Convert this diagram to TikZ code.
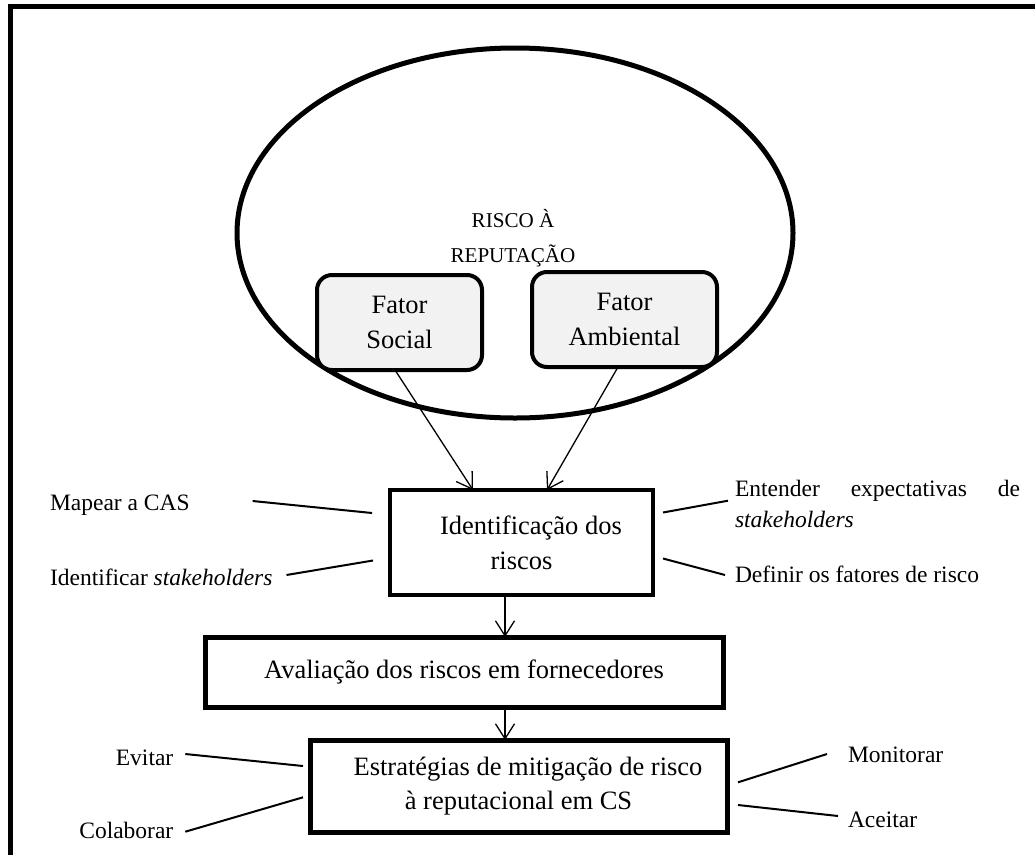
\documentclass[tikz,border=0pt]{standalone}
\usepackage{fontspec}
\setmainfont{Liberation Serif}
\usetikzlibrary{arrows.meta,shapes.geometric}
\definecolor{boxfill}{HTML}{F2F2F2}
\begin{document}
\begin{tikzpicture}[x=1pt,y=-1pt,
  sidetxt/.style={inner sep=0pt,outer sep=0pt,font=\fontsize{23.5}{30.3}\selectfont},
  boxtxt/.style={font=\fontsize{26.5}{35}\selectfont,align=center,inner sep=0pt,outer sep=0pt},
  stepbox/.style={draw,line width=4.5pt,line join=miter,boxtxt},
  factor/.style={draw,line width=4pt,fill=boxfill,rounded corners=15pt,boxtxt},
  flow/.style={line width=1.3pt,-{Straight Barb[length=15pt,width=19pt]}},
  tie/.style={line width=2pt},
]
\useasboundingbox (0,0) rectangle (1035,854);
\fill[white] (0,0) rectangle (1035,854);
\clip (0,0) rectangle (1035,854);

% outer frame
\draw[line width=5pt,line join=miter] (10.8,900) -- (10.8,6.5) -- (1100,6.5);

% reputation risk ellipse
\node[draw,ellipse,line width=5pt,minimum width=556pt,minimum height=370pt,inner sep=0pt,outer sep=0pt] (risk) at (515,233) {};
\node[inner sep=0pt,align=center,font=\fontsize{21.1}{35.4}\selectfont] (risklabel) at (513,238) {RISCO À\\REPUTAÇÃO};

% factors
\node[factor,minimum width=165pt,minimum height=95pt] (social) at (399.5,322.5) {Fator\\Social};
\node[factor,minimum width=185pt,minimum height=95pt] (env) at (624.5,319.5) {Fator\\Ambiental};

% process steps
\node[stepbox,minimum width=263pt,minimum height=105pt] (ident) at (521.5,542.5) {\hspace*{19pt}Identificação dos\\riscos};
\node[stepbox,line width=5pt,minimum width=518pt,minimum height=70pt] (assess) at (464,672) {Avaliação dos riscos em fornecedores};
\node[stepbox,line width=5pt,minimum width=417pt,minimum height=92pt,font=\fontsize{26.5}{33.7}\selectfont] (mitig) at (518.5,786) {\hspace*{19pt}Estratégias de mitigação de risco\\à reputacional em CS};

% side labels
\node[sidetxt,anchor=base west] (cas) at (50,510.7) {Mapear a CAS};
\node[sidetxt,anchor=base west] (stk) at (50,585.7) {Identificar \textit{stakeholders}};
\node[sidetxt,anchor=base west] (expect) at (735,496.7) {\makebox[285pt][s]{Entender expectativas de}};
\node[sidetxt,anchor=base west] (expectb) at (735,527.3) {\textit{stakeholders}};
\node[sidetxt,anchor=base west] (factors) at (735,582.7) {Definir os fatores de risco};
\node[sidetxt,anchor=base east] (avoid) at (173.3,765) {Evitar};
\node[sidetxt,anchor=base east] (collab) at (173.3,838) {Colaborar};
\node[sidetxt,anchor=base west] (monitor) at (848,762.7) {Monitorar};
\node[sidetxt,anchor=base west] (accept) at (848,827.3) {Aceitar};

% label ties
\draw[tie] ([shift={(63,-9.7)}]cas.base east) -- ([shift={(-18,-29.5)}]ident.west);
\draw[tie] ([shift={(14,-10.7)}]stk.base east) -- ([shift={(-17,18)}]ident.west);
\draw[tie] ([shift={(10,-30)}]ident.east) -- ([shift={(-7,4)}]expect.base west);
\draw[tie] ([shift={(10,16)}]ident.east) -- ([shift={(-10,-7.7)}]factors.base west);
\draw[tie] ([shift={(12,-11)}]avoid.base east) -- ([shift={(-7,-20)}]mitig.west);
\draw[tie] ([shift={(12,-6.3)}]collab.base east) -- ([shift={(-7,11.3)}]mitig.west);
\draw[tie] ([shift={(11,-3.7)}]mitig.east) -- ([shift={(-21,-8.7)}]monitor.base west);
\draw[tie] ([shift={(11,19)}]mitig.east) -- ([shift={(-10,-11.3)}]accept.base west);

% flow arrows
\draw[flow] ([xshift=-4.5pt]social.south) -- ([xshift=-48.5pt]ident.north);
\draw[flow] ([xshift=-6.5pt]env.south) -- ([xshift=25.5pt]ident.north);
\draw[flow] ([xshift=-16.5pt]ident.south) -- ([xshift=41pt]assess.north);
\draw[flow] ([xshift=41pt]assess.south) -- ([xshift=-13.5pt]mitig.north);
\end{tikzpicture}
\end{document}
